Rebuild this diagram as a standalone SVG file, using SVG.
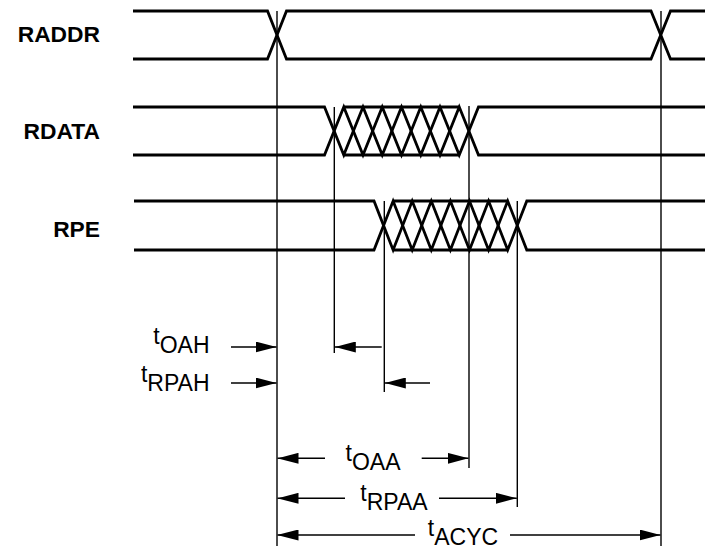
<svg xmlns="http://www.w3.org/2000/svg" width="705" height="549" viewBox="0 0 705 549">
<style>
.sig{fill:none;stroke:#000;stroke-width:2.8;stroke-linejoin:miter}
.vl{stroke:#000;stroke-width:1.4}
.arr{stroke:#000;stroke-width:1.4;fill:none}
.lbl{font-family:"Liberation Sans",Arial,sans-serif;font-weight:bold;font-size:22.8px;fill:#000}
.tm{font-family:"Liberation Sans",Arial,sans-serif;font-size:23px;fill:#000}
</style>
<defs>
<marker id="ah" viewBox="0 0 21 11" refX="21" refY="5.5" markerWidth="21" markerHeight="11" markerUnits="userSpaceOnUse" orient="auto-start-reverse">
<path d="M0,0 L21,5.5 L0,11 z" fill="#000"/>
</marker>
</defs>
<rect width="705" height="549" fill="#fff"/>
<g id="RADDR">
<text class="lbl" x="100" y="41.7" text-anchor="end">RADDR</text>
<path class="sig" d="M133,11 H267.5 L286.5,59 H651 L670.5,11 H705"/>
<path class="sig" d="M133,59 H267.5 L286.5,11 H651 L670.5,59 H705"/>
</g>
<g id="RDATA">
<text class="lbl" x="100" y="139" text-anchor="end">RDATA</text>
<path class="sig" d="M133,107 H324.5 L343.75,155 L363,107 L382.25,155 L401.5,107 L420.75,155 L440,107 L459.25,155 L478.5,107 H705"/>
<path class="sig" d="M133,155 H324.5 L343.75,107 L363,155 L382.25,107 L401.5,155 L420.75,107 L440,155 L459.25,107 L478.5,155 H705"/>
<path class="sig" d="M343.75,107 H459.25 M343.75,155 H459.25"/>
</g>
<g id="RPE">
<text class="lbl" x="100" y="237" text-anchor="end">RPE</text>
<path class="sig" d="M134,201 H374 L393.1,250 L412.2,201 L431.3,250 L450.4,201 L469.5,250 L488.6,201 L507.7,250 L526.8,201 H705"/>
<path class="sig" d="M134,250 H374 L393.1,201 L412.2,250 L431.3,201 L450.4,250 L469.5,201 L488.6,250 L507.7,201 L526.8,250 H705"/>
<path class="sig" d="M393.1,201 H507.7 M393.1,250 H507.7"/>
</g>
<g id="guides">
<line class="vl" x1="277" y1="11" x2="277" y2="546"/>
<line class="vl" x1="334.3" y1="107" x2="334.3" y2="353"/>
<line class="vl" x1="384.3" y1="201" x2="384.3" y2="392"/>
<line class="vl" x1="469" y1="106" x2="469" y2="468"/>
<line class="vl" x1="517.3" y1="201" x2="517.3" y2="507"/>
<line class="vl" x1="661" y1="11" x2="661" y2="546"/>
</g>
<g id="tOAH">
<text class="tm" x="209.5" y="353" text-anchor="end"><tspan dy="-9">t</tspan><tspan dy="9">OAH</tspan></text>
</g>
<g id="tRPAH">
<text class="tm" x="209.5" y="391" text-anchor="end"><tspan dy="-9">t</tspan><tspan dy="9">RPAH</tspan></text>
</g>
<g id="tOAA">
<text class="tm" x="373" y="470" text-anchor="middle"><tspan dy="-9">t</tspan><tspan dy="9">OAA</tspan></text>
</g>
<g id="tRPAA">
<text class="tm" x="394" y="510" text-anchor="middle"><tspan dy="-9">t</tspan><tspan dy="9">RPAA</tspan></text>
</g>
<g id="tACYC">
<text class="tm" x="463" y="545" text-anchor="middle"><tspan dy="-9">t</tspan><tspan dy="9">ACYC</tspan></text>
</g>
<g id="connectors">
<line class="arr" x1="231" y1="347" x2="276.5" y2="347" marker-end="url(#ah)"/>
<line class="arr" x1="381.7" y1="347" x2="334.8" y2="347" marker-end="url(#ah)"/>
<line class="arr" x1="231" y1="383" x2="276.5" y2="383" marker-end="url(#ah)"/>
<line class="arr" x1="430" y1="383" x2="384.8" y2="383" marker-end="url(#ah)"/>
<line class="arr" x1="277.5" y1="458.3" x2="325" y2="458.3" marker-start="url(#ah)"/>
<line class="arr" x1="421.7" y1="458.3" x2="468.5" y2="458.3" marker-end="url(#ah)"/>
<line class="arr" x1="277.5" y1="498.3" x2="345" y2="498.3" marker-start="url(#ah)"/>
<line class="arr" x1="439" y1="498.3" x2="516.8" y2="498.3" marker-end="url(#ah)"/>
<line class="arr" x1="277.5" y1="535" x2="415" y2="535" marker-start="url(#ah)"/>
<line class="arr" x1="510" y1="535" x2="660.5" y2="535" marker-end="url(#ah)"/>
</g>
</svg>
